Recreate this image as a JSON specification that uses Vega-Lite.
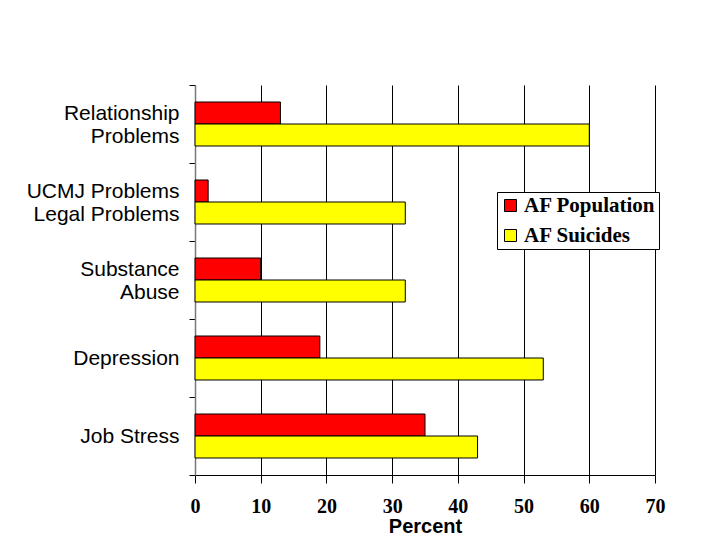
{
  "$schema": "https://vega.github.io/schema/vega-lite/v6.json",
  "width": 460,
  "height": 390,
  "autosize": "none",
  "padding": {"left": 195, "top": 85, "right": 56, "bottom": 62},
  "background": "white",
  "config": {"view": {"stroke": null}},
  "data": {
    "values": [
      {"cause": "Relationship|Problems", "series": "AF Population", "pct": 13},
      {"cause": "Relationship|Problems", "series": "AF Suicides", "pct": 60},
      {"cause": "UCMJ Problems|Legal Problems", "series": "AF Population", "pct": 2},
      {"cause": "UCMJ Problems|Legal Problems", "series": "AF Suicides", "pct": 32},
      {"cause": "Substance|Abuse", "series": "AF Population", "pct": 10},
      {"cause": "Substance|Abuse", "series": "AF Suicides", "pct": 32},
      {"cause": "Depression", "series": "AF Population", "pct": 19},
      {"cause": "Depression", "series": "AF Suicides", "pct": 53},
      {"cause": "Job Stress", "series": "AF Population", "pct": 35},
      {"cause": "Job Stress", "series": "AF Suicides", "pct": 43}
    ]
  },
  "mark": {"type": "bar", "stroke": "black", "strokeWidth": 1},
  "encoding": {
    "y": {
      "field": "cause",
      "type": "nominal",
      "sort": ["Relationship|Problems", "UCMJ Problems|Legal Problems", "Substance|Abuse", "Depression", "Job Stress"],
      "scale": {"paddingInner": 0, "paddingOuter": 0},
      "axis": {
        "title": null,
        "tickBand": "extent",
        "grid": false,
        "labelExpr": "split(datum.label, '|')",
        "labelFont": "Liberation Sans",
        "labelFontSize": 21,
        "labelColor": "black",
        "labelLineHeight": 23,
        "labelPadding": 10,
        "labelLimit": 300,
        "labelBaseline": {"condition": {"test": "indexof('' + datum.value, '|') >= 0", "value": "line-bottom"}, "value": "middle"},
        "tickSize": 6,
        "tickColor": "black",
        "domainColor": "#777777",
        "domainWidth": 1.5
      }
    },
    "yOffset": {
      "field": "series",
      "type": "nominal",
      "sort": ["AF Population", "AF Suicides"],
      "scale": {"paddingInner": 0, "paddingOuter": 0.773}
    },
    "x": {
      "field": "pct",
      "type": "quantitative",
      "scale": {"domain": [0, 70], "nice": false},
      "axis": {
        "title": "Percent",
        "titleFont": "Liberation Sans",
        "titleFontSize": 20,
        "titleFontWeight": "bold",
        "titleColor": "black",
        "titlePadding": 0,
        "values": [0, 10, 20, 30, 40, 50, 60, 70],
        "labelFont": "Liberation Serif",
        "labelFontSize": 20,
        "labelFontWeight": "bold",
        "labelColor": "black",
        "labelPadding": 13,
        "labelFlush": false,
        "tickSize": 8,
        "tickColor": "black",
        "domainColor": "black",
        "grid": true,
        "gridColor": "black",
        "gridWidth": 1,
        "gridOpacity": 1
      }
    },
    "color": {
      "field": "series",
      "type": "nominal",
      "sort": ["AF Population", "AF Suicides"],
      "scale": {"domain": ["AF Population", "AF Suicides"], "range": ["#FF0000", "#FFFF00"]},
      "legend": {
        "title": null,
        "orient": "none",
        "legendX": 302,
        "legendY": 107,
        "strokeColor": "black",
        "fillColor": "white",
        "padding": 3,
        "symbolType": "square",
        "symbolSize": 144,
        "symbolStrokeColor": "black",
        "symbolStrokeWidth": 1,
        "symbolOpacity": 1,
        "labelFont": "Liberation Serif",
        "labelFontSize": 21,
        "labelFontWeight": "bold",
        "labelColor": "black",
        "labelLimit": 300,
        "rowPadding": 8,
        "labelOffset": 3
      }
    }
  }
}
